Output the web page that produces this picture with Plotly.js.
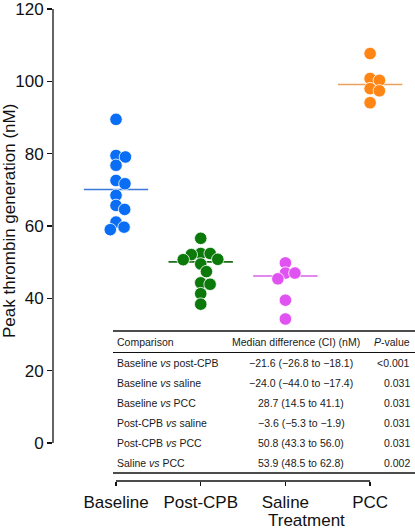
<!DOCTYPE html>
<html><head><meta charset="utf-8">
<script src="https://cdn.plot.ly/plotly-3.0.1.min.js"></script>
<style>html,body{margin:0;padding:0;background:#fff}#chart{width:415px;height:531px}</style>
</head><body><div id="chart"></div>
<script>
// ---- data ----
const categories = ["Baseline", "Post-CPB", "Saline", "PCC"];
const baseline = [89.5, 79.5, 79.1, 76.8, 72.6, 71.7, 68.5, 65.7, 64.6, 61.1, 59.7, 59.0];
const postCPB = [56.6, 52.4, 52.4, 52.1, 50.8, 50.7, 49.5, 47.4, 44.3, 43.9, 41.3, 38.4];
const saline = [49.8, 47.0, 47.0, 45.4, 39.5, 34.3];
const pcc = [107.7, 100.8, 100.3, 98.0, 97.4, 94.1];
const yTicks = [0, 20, 40, 60, 80, 100, 120];
const comparisons = ["Baseline <i>vs</i> post-CPB", "Baseline <i>vs</i> saline", "Baseline <i>vs</i> PCC",
  "Post-CPB <i>vs</i> saline", "Post-CPB <i>vs</i> PCC", "Saline <i>vs</i> PCC"];
const medianDiffs = ["\u221221.6 (\u221226.8 to \u221218.1)", "\u221224.0 (\u221244.0 to \u221217.4)", "28.7 (14.5 to 41.1)",
  "\u22123.6 (\u22125.3 to \u22121.9)", "50.8 (43.3 to 56.0)", "53.9 (48.5 to 62.8)"];
const pValues = ["<0.001", "0.031", "0.031", "0.031", "0.031", "0.002"];
const tableHeader = ["Comparison", "Median difference (CI) (nM)", "<i>P</i>-value"];

// ---- styles / geometry ----
const W = 415, H = 531;
const M = {l: 53, r: 0, t: 9, b: 50};
const PW = W - M.l - M.r, PH = H - M.t - M.b;
const yRange = [-10.5, 120.02];
const xRange = [-0.744, 3.53];
const pxPerY = PH / (yRange[1] - yRange[0]);
const pxPerX = PW / (xRange[1] - xRange[0]);
const markerColors = ["#0a6ef5", "#0b7a0b", "#e052f2", "#ff8514"];
const lineColors = ["#3a7ad8", "#1b6b1b", "#d860e8", "#eba15c"];
const FONT = "Liberation Sans, Arial, Helvetica, sans-serif";
const groups = [baseline, postCPB, saline, pcc];

function median(a) {
  const s = a.slice().sort((p, q) => p - q), n = s.length;
  return n % 2 ? s[(n - 1) / 2] : (s[n / 2 - 1] + s[n / 2]) / 2;
}
function swarm(vals, d) {
  const order = vals.map((v, i) => i).sort((a, b) => vals[b] - vals[a]);
  const placed = [], off = new Array(vals.length).fill(0);
  order.forEach(i => {
    const y = vals[i] * pxPerY;
    const cands = [0];
    placed.forEach(p => {
      const dy = Math.abs(p.y - y);
      if (dy < d) { const dx = Math.sqrt(d * d - dy * dy); cands.push(p.x + dx + 0.01, p.x - dx - 0.01); }
    });
    cands.sort((a, b) => Math.abs(a) - Math.abs(b));
    for (const c of cands) {
      if (placed.every(p => Math.hypot(p.x - c, p.y - y) >= d - 0.001)) { off[i] = c; placed.push({x: c, y}); break; }
    }
  });
  return off.map(o => o / pxPerX);
}

const traces = [];
groups.forEach((g, k) => {
  const m = median(g);
  traces.push({x: [k - 0.38, k + 0.38], y: [m, m], mode: "lines", type: "scatter",
    line: {color: lineColors[k], width: 1.6}, hoverinfo: "skip", showlegend: false});
});
groups.forEach((g, k) => {
  const off = swarm(g, 9.5);
  traces.push({x: g.map((v, i) => k + off[i]), y: g, mode: "markers", type: "scatter",
    marker: {size: 12.5, color: markerColors[k], line: {color: "#fff", width: 0.8}},
    cliponaxis: false, showlegend: false, name: categories[k]});
});

const px2x = p => (p - M.l) / PW;
const py2y = p => (H - M.b - p) / PH;

const annotations = [];
const tf = {family: FONT, size: 10.5, color: "#1a1a1a"};
annotations.push({xref: "paper", yref: "paper", x: px2x(115), y: py2y(342), xanchor: "left", yanchor: "middle", text: tableHeader[0], showarrow: false, font: tf});
annotations.push({xref: "paper", yref: "paper", x: px2x(296), y: py2y(342), xanchor: "center", yanchor: "middle", text: tableHeader[1], showarrow: false, font: tf});
annotations.push({xref: "paper", yref: "paper", x: px2x(411.5), y: py2y(342), xanchor: "right", yanchor: "middle", text: tableHeader[2], showarrow: false, font: tf});
comparisons.forEach((c, i) => {
  const yy = py2y(363 + 20 * i);
  annotations.push({xref: "paper", yref: "paper", x: px2x(115), y: yy, xanchor: "left", yanchor: "middle", text: c, showarrow: false, font: tf});
  annotations.push({xref: "paper", yref: "paper", x: px2x(301), y: yy, xanchor: "center", yanchor: "middle", text: medianDiffs[i], showarrow: false, font: tf});
  annotations.push({xref: "paper", yref: "paper", x: px2x(411.5), y: yy, xanchor: "right", yanchor: "middle", text: pValues[i], showarrow: false, font: tf});
});
annotations.push({xref: "paper", yref: "paper", x: px2x(9), y: py2y(221), xanchor: "center", yanchor: "middle", textangle: -90,
  text: "Peak thrombin generation (nM)", showarrow: false, font: {family: FONT, size: 17, color: "#111"}});
annotations.push({xref: "paper", yref: "paper", x: px2x(306), y: py2y(520), xanchor: "center", yanchor: "middle",
  text: "Treatment", showarrow: false, font: {family: FONT, size: 17, color: "#111"}});

const shapes = [
  {type: "line", xref: "paper", yref: "y", x0: 0, x1: 0, y0: 0, y1: 120, line: {color: "#111", width: 1.3}},
  {type: "line", xref: "x", yref: "paper", x0: 0, x1: 3, y0: 0, y1: 0, line: {color: "#111", width: 1.3}},
  {type: "line", xref: "paper", yref: "paper", x0: px2x(113), x1: 1, y0: py2y(331), y1: py2y(331), line: {color: "#111", width: 1.5}},
  {type: "line", xref: "paper", yref: "paper", x0: px2x(113), x1: 1, y0: py2y(352.5), y1: py2y(352.5), line: {color: "#111", width: 1}},
  {type: "line", xref: "paper", yref: "paper", x0: px2x(113), x1: 1, y0: py2y(473), y1: py2y(473), line: {color: "#111", width: 1.5}}
];

const layout = {
  width: W, height: H, margin: M, paper_bgcolor: "#fff", plot_bgcolor: "#fff",
  font: {family: FONT, color: "#111"}, showlegend: false,
  xaxis: {range: xRange, tickvals: [0, 1, 2, 3], ticktext: categories, ticks: "outside", ticklen: 4,
    tickwidth: 1.3, tickcolor: "#111", showline: false, showgrid: false, zeroline: false, ticklabelstandoff: 2,
    tickfont: {family: FONT, size: 17, color: "#111"}, fixedrange: true},
  yaxis: {range: yRange, tickvals: yTicks, ticks: "outside", ticklen: 5, tickwidth: 1.3, tickcolor: "#111",
    showline: false, showgrid: false, zeroline: false, tickfont: {family: FONT, size: 17, color: "#111"}, fixedrange: true},
  shapes, annotations
};
Plotly.newPlot("chart", traces, layout, {displayModeBar: false, staticPlot: true});
</script></body></html>
